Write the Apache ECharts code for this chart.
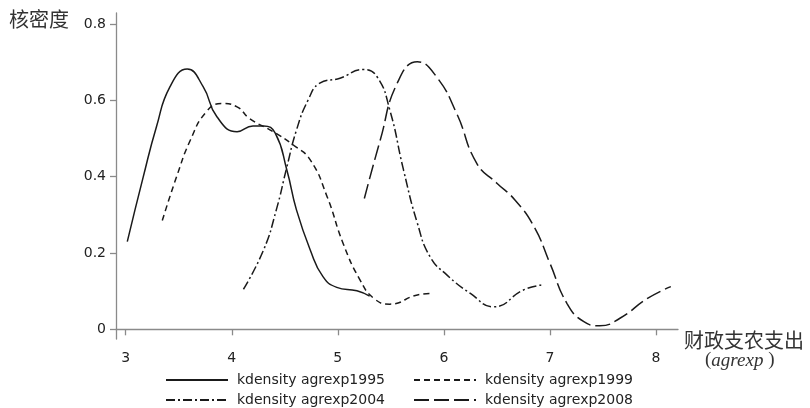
<!DOCTYPE html>
<html><head><meta charset="utf-8">
<script src="https://cdn.jsdelivr.net/npm/echarts@6/dist/echarts.min.js"></script>
<style>html,body{margin:0;padding:0;background:#fff}#c{width:810px;height:408px}</style>
</head><body><div id="c"></div>
<script>
var xTicks = [3, 4, 5, 6, 7, 8];
var yTicks = [0, 0.2, 0.4, 0.6, 0.8];
var names = ['kdensity agrexp1995', 'kdensity agrexp1999', 'kdensity agrexp2004', 'kdensity agrexp2008'];

var x1995 = [3.015, 3.166, 3.29, 3.418, 3.58, 3.73, 3.86, 4.05, 4.20, 4.30, 4.41, 4.52, 4.61, 4.74, 4.86, 4.99, 5.18, 5.30];
var y1995 = [0.23, 0.40, 0.531, 0.636, 0.682, 0.636, 0.557, 0.518, 0.533, 0.533, 0.514, 0.417, 0.313, 0.208, 0.138, 0.11, 0.101, 0.087];

var x1999 = [3.345, 3.48, 3.61, 3.76, 3.905, 4.05, 4.17, 4.39, 4.58, 4.74, 4.90, 5.05, 5.21, 5.34, 5.49, 5.75, 5.89];
var y1999 = [0.285, 0.40, 0.496, 0.57, 0.592, 0.583, 0.552, 0.518, 0.483, 0.444, 0.347, 0.225, 0.129, 0.081, 0.066, 0.09, 0.094];

var x2004 = [4.11, 4.30, 4.42, 4.52, 4.61, 4.72, 4.83, 5.02, 5.24, 5.37, 5.49, 5.62, 5.75, 5.87, 6.03, 6.25, 6.47, 6.75, 6.92];
var y2004 = [0.105, 0.208, 0.313, 0.426, 0.522, 0.601, 0.645, 0.658, 0.681, 0.662, 0.575, 0.417, 0.278, 0.19, 0.142, 0.094, 0.059, 0.103, 0.116];

var x2008 = [5.25, 5.40, 5.56, 5.75, 5.93, 6.12, 6.31, 6.50, 6.67, 6.85, 7.00, 7.16, 7.32, 7.47, 7.66, 7.92, 8.14];
var y2008 = [0.343, 0.496, 0.645, 0.701, 0.662, 0.566, 0.435, 0.383, 0.339, 0.269, 0.173, 0.068, 0.020, 0.009, 0.029, 0.081, 0.112];

function pairs(xs, ys) { return xs.map(function (x, i) { return [x, ys[i]]; }); }

var dashes = ['solid', [6, 4], [9, 3, 2, 3], [15, 5]];
var seriesData = [pairs(x1995, y1995), pairs(x1999, y1999), pairs(x2004, y2004), pairs(x2008, y2008)];

var chart = echarts.init(document.getElementById('c'), null, {renderer: 'canvas'});
var axisCol = '#8a8a8a';
var labFont = {color: '#222', fontFamily: 'DejaVu Sans', fontSize: 14};
function legendAt(left, data) {
  return {orient: 'vertical', left: left, top: 373, width: 240, height: 40, padding: 0,
    itemWidth: 62, itemHeight: 14, itemGap: 6, data: data,
    itemStyle: {opacity: 0, borderWidth: 0},
    textStyle: Object.assign({padding: [0, 0, 0, 4]}, labFont)};
}
chart.setOption({
  animation: false,
  backgroundColor: '#fff',
  grid: {left: 116, right: 132, top: 13, bottom: 69},
  xAxis: {
    type: 'value', min: 2.9085, max: 8.2075,
    axisLine: {show: true, lineStyle: {color: axisCol, width: 1.3}},
    axisTick: {show: true, length: 6, lineStyle: {color: axisCol, width: 1.3}, customValues: xTicks},
    axisLabel: Object.assign({margin: 12, customValues: xTicks}, labFont),
    splitLine: {show: false}
  },
  yAxis: {
    type: 'value', min: -0.0254, max: 0.829,
    axisLine: {show: true, lineStyle: {color: axisCol, width: 1.3}},
    axisTick: {show: true, length: 6, lineStyle: {color: axisCol, width: 1.3}, customValues: yTicks},
    axisLabel: Object.assign({margin: 10, customValues: yTicks}, labFont),
    splitLine: {show: false}
  },
  legend: [legendAt(165, [names[0], names[2]]), legendAt(413, [names[1], names[3]])],
  series: names.map(function (n, i) {
    return {
      name: n, type: 'line', data: seriesData[i], smooth: 0.5, symbol: 'none',
      lineStyle: {color: '#1a1a1a', width: 1.5, type: dashes[i]},
      itemStyle: {color: '#1a1a1a', opacity: 0}
    };
  }),
  graphic: [
    {type: 'text', left: 9, top: 9, style: {text: '核密度', font: '20px "Noto Sans CJK SC"', fill: '#333'}},
    {type: 'text', left: 684, top: 330, style: {text: '财政支农支出', font: '20px "Noto Sans CJK SC"', fill: '#333'}},
    {type: 'text', left: 705, top: 351, style: {
      text: '{p|(}{i|agrexp}{p| )}',
      rich: {p: {fontFamily: 'Liberation Serif', fontSize: 19, fill: '#333'},
             i: {fontFamily: 'Liberation Serif', fontStyle: 'italic', fontSize: 19, fill: '#333'}}}}
  ]
});
</script></body></html>
